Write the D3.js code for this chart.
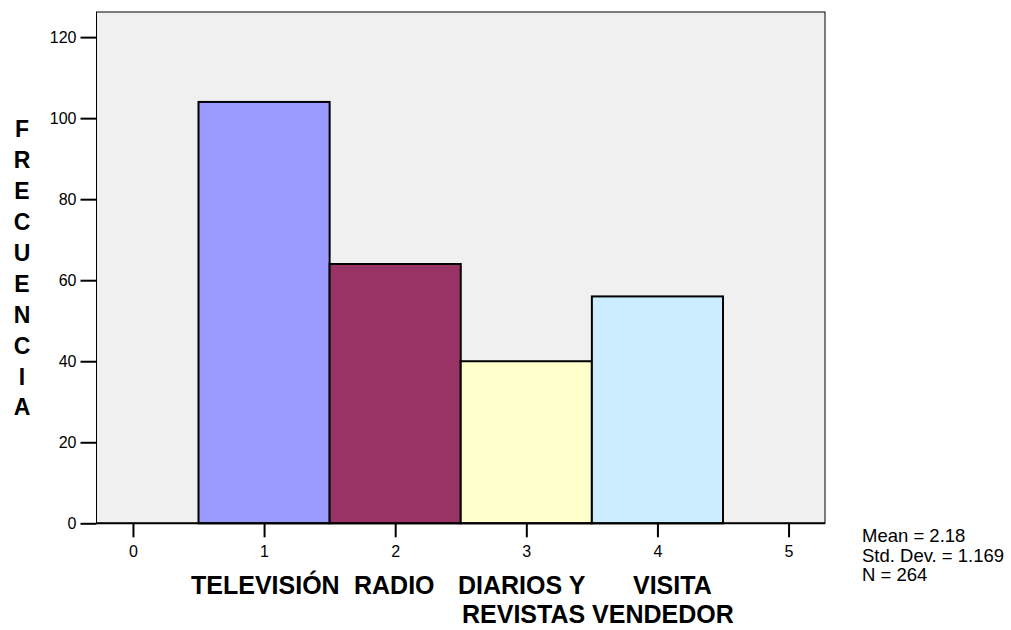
<!DOCTYPE html>
<html>
<head>
<meta charset="utf-8">
<script src="https://cdn.jsdelivr.net/npm/d3@7"></script>
<style>
  html, body { margin: 0; padding: 0; background: #ffffff; }
  svg { display: block; font-family: Arial, "Liberation Sans", sans-serif; }
</style>
</head>
<body>
<svg id="chart" width="1011" height="630"></svg>
<script>
// ---- data ----
const categories = [1, 2, 3, 4];
const categoryNames = ["TELEVISIÓN", "RADIO", "DIARIOS Y REVISTAS", "VISITA VENDEDOR"];
const frequencies = [104, 64, 40, 56];
const barColors = ["#9999FF", "#993366", "#FFFFCC", "#CCECFF"];
const xTicks = [0, 1, 2, 3, 4, 5];
const yTicks = [0, 20, 40, 60, 80, 100, 120];
const yTitle = "FRECUENCIA";
const statsLines = ["Mean = 2.18", "Std. Dev. = 1.169", "N = 264"];

// ---- layout ----
const svg = d3.select("#chart");
const plot = { left: 96.5, right: 825, top: 12, bottom: 523.3 };

const x = d3.scaleLinear().domain([-0.278, 5.278]).range([plot.left, plot.right]);
const y = d3.scaleLinear().domain([0, 126.2]).range([plot.bottom, plot.top]);

// background
svg.append("rect")
  .attr("x", plot.left).attr("y", plot.top)
  .attr("width", plot.right - plot.left).attr("height", plot.bottom - plot.top)
  .attr("fill", "#F0F0F0").attr("stroke", "#000").attr("stroke-width", 1);

// bars
svg.append("g").selectAll("rect").data(categories).join("rect")
  .attr("x", d => x(d - 0.5))
  .attr("y", (d, i) => y(frequencies[i]))
  .attr("width", d => x(d + 0.5) - x(d - 0.5))
  .attr("height", (d, i) => y(0) - y(frequencies[i]))
  .attr("fill", (d, i) => barColors[i])
  .attr("stroke", "#000").attr("stroke-width", 2);

// bottom edge emphasis
svg.append("line")
  .attr("x1", plot.left).attr("x2", plot.right)
  .attr("y1", plot.bottom).attr("y2", plot.bottom)
  .attr("stroke", "#000").attr("stroke-width", 2);

// y axis
const yAxis = d3.axisLeft(y).tickValues(yTicks).tickSize(16).tickPadding(4).tickFormat(d3.format("d"));
const gy = svg.append("g").attr("transform", `translate(${plot.left},0)`).call(yAxis);
gy.select(".domain").remove();
gy.selectAll(".tick line").attr("stroke", "#000").attr("stroke-width", 2);
gy.selectAll(".tick text").attr("font-size", 16).attr("fill", "#000")
  .attr("font-family", "Arial, 'Liberation Sans', sans-serif");

// x axis
const xAxis = d3.axisBottom(x).tickValues(xTicks).tickSize(14).tickPadding(8).tickFormat(d3.format("d"));
const gx = svg.append("g").attr("transform", `translate(0,${plot.bottom})`).call(xAxis);
gx.select(".domain").remove();
gx.selectAll(".tick line").attr("stroke", "#000").attr("stroke-width", 2);
gx.selectAll(".tick text").attr("font-size", 16).attr("fill", "#000")
  .attr("font-family", "Arial, 'Liberation Sans', sans-serif");

// y title (stacked letters)
const yt = svg.append("text")
  .attr("font-size", 23).attr("font-weight", "bold").attr("text-anchor", "middle").attr("fill", "#000");
yt.selectAll("tspan").data(yTitle.split("")).join("tspan")
  .attr("x", 22)
  .attr("y", (d, i) => 137.3 + i * 30.9)
  .text(d => d);

// x title: two lines, words positioned under their bars
const line1 = [
  { t: "TELEVISIÓN", x: 191 },
  { t: "RADIO", x: 354 },
  { t: "DIARIOS Y", x: 458 },
  { t: "VISITA", x: 633 }
];
const line2 = [
  { t: "REVISTAS VENDEDOR", x: 462 }
];
const titleG = svg.append("g").attr("font-size", 25).attr("font-weight", "bold").attr("fill", "#000");
titleG.selectAll("text.l1").data(line1).join("text").attr("class", "l1")
  .attr("x", d => d.x).attr("y", 594).text(d => d.t);
titleG.selectAll("text.l2").data(line2).join("text").attr("class", "l2")
  .attr("x", d => d.x).attr("y", 623).text(d => d.t);

// stats
svg.append("g").selectAll("text").data(statsLines).join("text")
  .attr("x", 862).attr("y", (d, i) => 542 + i * 19.7)
  .attr("font-size", 18.5).attr("fill", "#000").text(d => d);
</script>
</body>
</html>
